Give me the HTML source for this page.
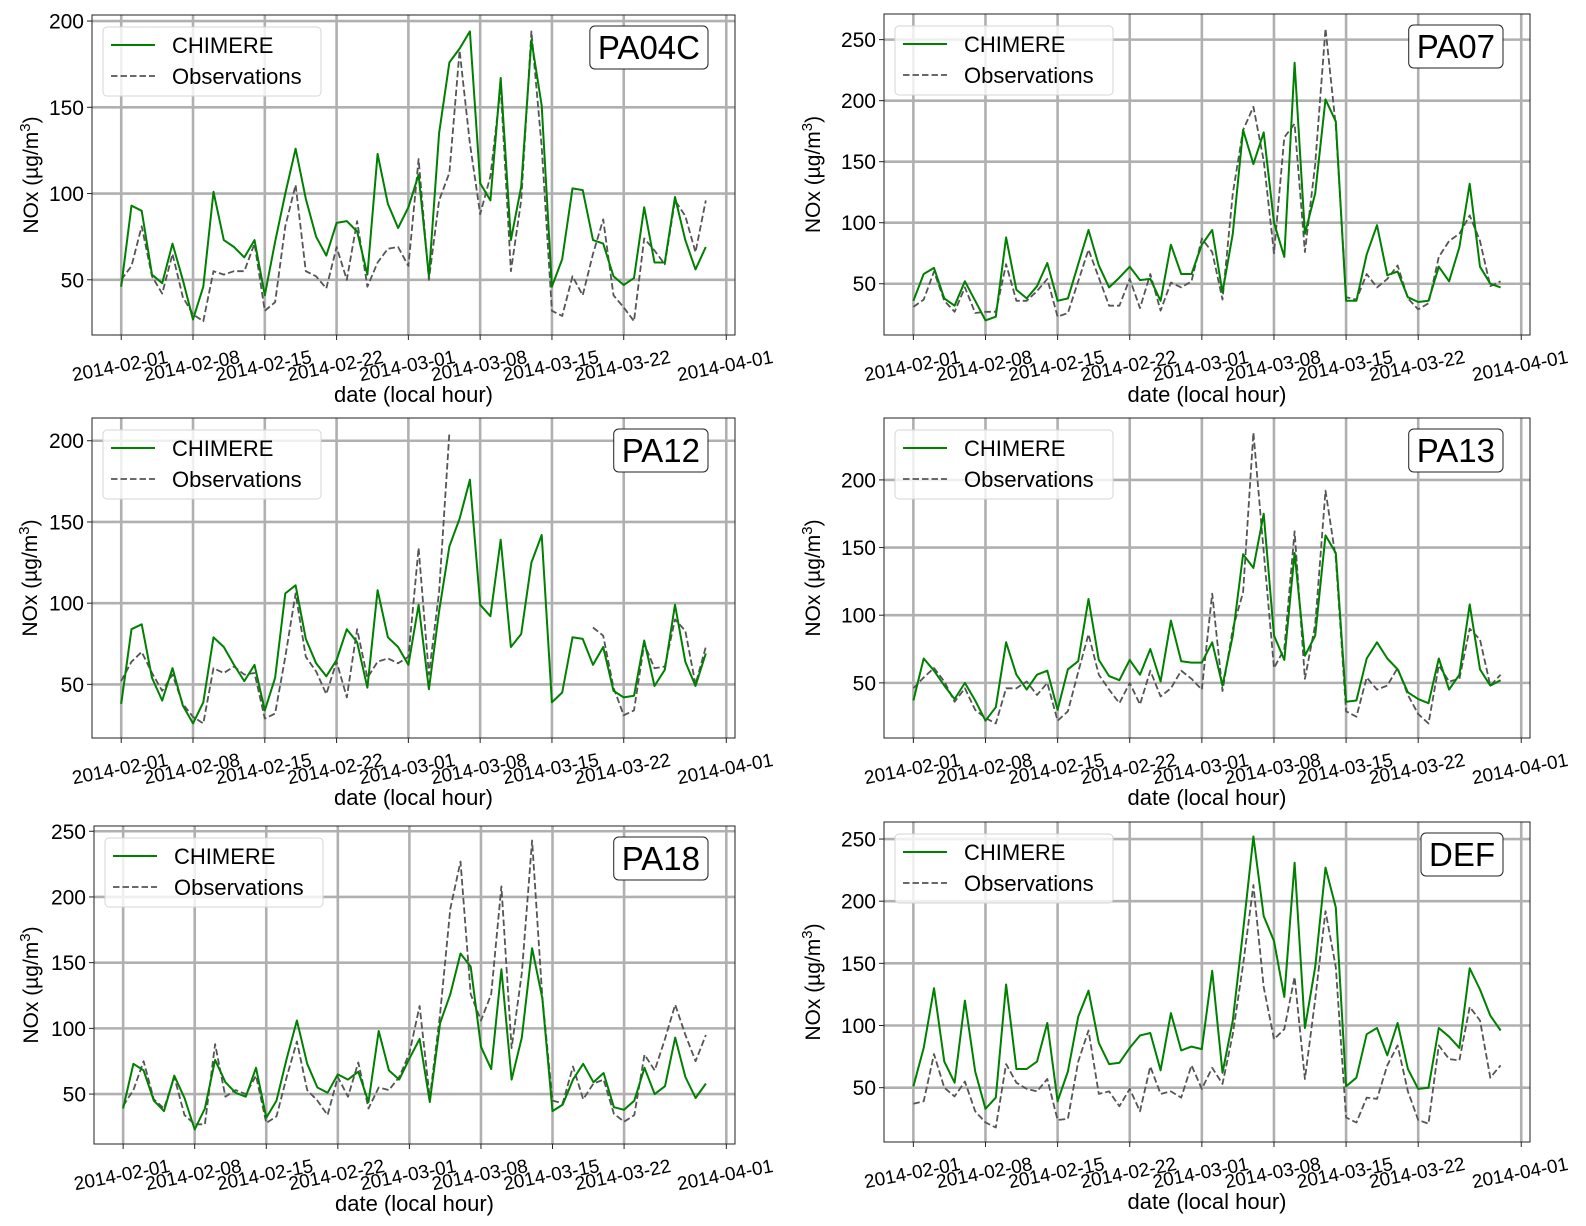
<!DOCTYPE html>
<html><head><meta charset="utf-8">
<style>
html,body{margin:0;padding:0;background:#fff;}
svg{display:block;font-family:"Liberation Sans","DejaVu Sans",sans-serif;}
</style></head>
<body>
<svg id="fig" width="1586" height="1226" viewBox="0 0 1586 1226" xmlns="http://www.w3.org/2000/svg"></svg>
<script>
const tickDays = [0,7,14,21,28,35,42,49,59];
const tickLabels = ["2014-02-01","2014-02-08","2014-02-15","2014-02-22","2014-03-01","2014-03-08","2014-03-15","2014-03-22","2014-04-01"];
const stations = ["PA04C","PA07","PA12","PA13","PA18","DEF"];

const pa04cModel = [46,93,90,53,48,71,50,27,46,101,73,69,63,73,41,72,100,126,97,75,64,83,84,78,53,123,94,80,92,111,52,135,176,184,194,106,96,167,73,104,189,151,46,62,103,102,73,71,52,47,51,92,60,60,98,73,56,69];
const pa04cObs = [50,58,81,52,42,65,40,30,26,55,53,55,55,71,32,37,81,105,55,52,45,69,50,84,46,60,68,69,58,120,50,96,112,183,129,88,110,162,55,96,194,127,32,29,52,41,65,85,41,34,26,74,67,59,96,87,66,96];

const pa07Model = [36,58,63,38,32,52,36,20,23,88,45,38,48,67,36,38,66,94,65,47,55,64,53,54,36,82,58,58,82,94,43,91,176,148,174,100,72,231,91,124,201,183,36,36,74,98,57,60,39,35,36,64,52,80,132,64,50,47];
const pa07Obs = [31,37,60,36,27,47,26,27,27,66,36,36,44,54,23,26,52,78,55,32,32,54,30,58,28,51,47,52,87,76,37,124,176,195,151,75,170,181,76,148,259,179,39,37,58,47,54,65,38,29,34,72,85,91,106,85,48,52];

const pa12Model = [38,84,87,54,40,60,37,26,39,79,73,62,52,62,34,54,106,111,78,63,55,65,84,76,48,108,79,73,62,99,47,95,135,152,176,99,92,139,73,81,125,142,39,45,79,78,62,73,46,42,43,77,49,59,99,64,49,69];
const pa12Obs = [52,64,70,57,46,56,38,30,26,60,57,61,56,57,29,32,67,106,67,58,44,64,42,84,54,64,66,63,67,134,56,107,205,null,null,null,null,null,null,null,null,null,null,null,null,null,85,80,48,31,34,75,60,61,90,83,50,73];

const pa13Model = [37,68,59,48,38,50,37,22,32,80,56,45,56,59,30,60,66,112,67,55,52,67,56,75,51,96,66,65,65,80,48,85,145,135,175,85,67,146,70,85,159,146,36,37,68,80,68,60,43,38,35,68,45,56,108,60,48,52];
const pa13Obs = [46,54,61,51,36,46,30,24,20,46,46,51,41,50,22,29,58,86,56,45,35,50,34,59,40,46,59,53,45,116,44,90,117,235,147,61,75,162,53,93,192,142,29,25,54,45,48,61,41,27,20,63,51,53,90,82,48,56];

const pa18Model = [39,73,68,45,37,64,47,23,39,76,59,51,48,70,32,45,77,106,73,55,51,65,61,67,44,98,68,61,77,92,44,104,126,157,147,86,69,145,61,93,161,123,37,42,61,73,59,66,40,38,45,70,50,56,93,63,47,58];
const pa18Obs = [41,53,75,46,39,63,34,27,27,88,48,53,50,64,28,33,63,90,53,45,34,63,48,74,39,55,53,63,81,117,47,111,191,227,126,106,126,208,85,142,243,124,45,43,71,46,58,61,35,29,34,80,68,92,118,95,75,95];

const defModel = [51,82,130,71,54,120,63,33,42,133,65,65,71,102,39,63,107,128,86,69,70,82,92,94,64,110,80,83,81,144,62,104,176,252,188,168,123,231,98,147,227,195,51,58,93,98,76,102,65,49,50,98,91,82,146,129,108,96];
const defObs = [37,39,77,50,43,55,31,22,18,69,54,49,47,57,24,25,71,96,45,47,35,49,31,67,45,47,42,68,49,66,53,93,149,213,131,89,97,139,57,121,192,147,26,22,42,41,68,84,47,24,21,84,73,72,115,104,58,68];

const yTicks4 = [50,100,150,200];
const yTicks5 = [50,100,150,200,250];

const NS = "http://www.w3.org/2000/svg";
const svg = document.getElementById("fig");
function mk(tag, attrs, parent){
  const e = document.createElementNS(NS, tag);
  for (const k in attrs) e.setAttribute(k, attrs[k]);
  (parent||svg).appendChild(e);
  return e;
}

const panels = [
  {name:stations[0], model:pa04cModel, obs:pa04cObs, L:92, R:735, T:15, B:335, y0:18, y1:203.5, ticks:yTicks4, ylx:31},
  {name:stations[1], model:pa07Model, obs:pa07Obs, L:884, R:1530, T:14, B:335, y0:8, y1:271, ticks:yTicks5, ylx:813},
  {name:stations[2], model:pa12Model, obs:pa12Obs, L:92, R:735, T:418, B:738, y0:17, y1:214, ticks:yTicks4, ylx:30},
  {name:stations[3], model:pa13Model, obs:pa13Obs, L:884, R:1530, T:418, B:738, y0:9.25, y1:245.75, ticks:yTicks4, ylx:813},
  {name:stations[4], model:pa18Model, obs:pa18Obs, L:94, R:735, T:826, B:1144, y0:12, y1:254, ticks:yTicks5, ylx:31},
  {name:stations[5], model:defModel, obs:defObs, L:884, R:1530, T:822, B:1142, y0:6.3, y1:263.7, ticks:yTicks5, ylx:813}
];
const XMIN = -2.85, XMAX = 59.85;

panels.forEach(function(p){
  const slug = p.name.toLowerCase();
  const g = mk("g", {});
  
  
  const xs = d => p.L + (d - XMIN) / (XMAX - XMIN) * (p.R - p.L);
  const ys = v => p.B - (v - p.y0) / (p.y1 - p.y0) * (p.B - p.T);

  const clipId = "clip-" + slug;
  const cp = mk("clipPath", {id: clipId}, g);
  mk("rect", {x:p.L, y:p.T, width:p.R-p.L, height:p.B-p.T}, cp);

  const grid = mk("g", {"clip-path":"url(#"+clipId+")"}, g);
  
  
  tickDays.forEach(function(d){
    mk("line", {x1:xs(d), x2:xs(d), y1:p.T, y2:p.B, stroke:"#b0b0b0", "stroke-width":2.6}, grid);
  });
  p.ticks.forEach(function(v){
    mk("line", {x1:p.L, x2:p.R, y1:ys(v), y2:ys(v), stroke:"#b0b0b0", "stroke-width":2.6}, grid);
  });

  const series = mk("g", {"clip-path":"url(#"+clipId+")"}, g);
  function pathFor(arr){
    let d = "", pen = false;
    arr.forEach(function(v,i){
      if (v === null) { pen = false; return; }
      d += (pen ? "L" : "M") + xs(i).toFixed(1) + "," + ys(v).toFixed(1);
      pen = true;
    });
    return d;
  }
  const obsLine = mk("path", {d:pathFor(p.obs), fill:"none", stroke:"#555", "stroke-width":1.8, "stroke-dasharray":"6.5,3", "stroke-linejoin":"round"}, series);
  
  
  const modLine = mk("path", {d:pathFor(p.model), fill:"none", stroke:"#008000", "stroke-width":2, "stroke-linejoin":"round"}, series);
  
  

  const frame = mk("rect", {x:p.L, y:p.T, width:p.R-p.L, height:p.B-p.T, fill:"none", stroke:"#222", "stroke-width":1}, g);
  
  

  const yAxis = mk("g", {}, g);
  
  
  p.ticks.forEach(function(v){
    mk("line", {x1:p.L-5, x2:p.L, y1:ys(v), y2:ys(v), stroke:"#222", "stroke-width":1}, yAxis);
    const t = mk("text", {x:p.L-8, y:ys(v)+7.5, "text-anchor":"end", "font-size":21, fill:"#000"}, yAxis);
    t.textContent = v;
  });
  const yl = mk("text", {x:0, y:0, "text-anchor":"middle", "font-size":21, fill:"#000",
     transform:"translate("+(p.ylx+7)+","+((p.T+p.B)/2)+") rotate(-90)"}, yAxis);
  
  
  yl.appendChild(document.createTextNode("NOx (µg/m"));
  const sup = mk("tspan", {"font-size":15, dy:-8}, yl); sup.textContent = "3";
  const cl = mk("tspan", {dy:8}, yl); cl.textContent = ")";

  const xAxis = mk("g", {}, g);
  
  
  tickDays.forEach(function(d,i){
    mk("line", {x1:xs(d), x2:xs(d), y1:p.B, y2:p.B+5, stroke:"#222", "stroke-width":1}, xAxis);
    const t = mk("text", {x:0, y:0, "text-anchor":"middle", "font-size":19, fill:"#000",
      transform:"translate("+xs(d)+","+(p.B+37)+") rotate(-11)"}, xAxis);
    t.textContent = tickLabels[i];
  });
  const xl = mk("text", {x:(p.L+p.R)/2, y:p.B+67, "text-anchor":"middle", "font-size":22, fill:"#000"}, xAxis);
  
  
  xl.textContent = "date (local hour)";

  const lg = mk("g", {}, g);
  
  
  mk("rect", {x:p.L+11, y:p.T+12, width:218, height:69, rx:4, fill:"#fff", "fill-opacity":0.8, stroke:"#d6d6d6", "stroke-width":1}, lg);
  const e1 = mk("g", {}, lg);
  
  
  mk("line", {x1:p.L+19, x2:p.L+63, y1:p.T+30, y2:p.T+30, stroke:"#008000", "stroke-width":2}, e1);
  const t1 = mk("text", {x:p.L+80, y:p.T+38, "font-size":22, fill:"#000"}, e1); t1.textContent = "CHIMERE";
  const e2 = mk("g", {}, lg);
  
  
  mk("line", {x1:p.L+19, x2:p.L+63, y1:p.T+61, y2:p.T+61, stroke:"#555", "stroke-width":1.8, "stroke-dasharray":"6.5,3"}, e2);
  const t2 = mk("text", {x:p.L+80, y:p.T+69, "font-size":22, fill:"#000"}, e2); t2.textContent = "Observations";

  const tg = mk("g", {}, g);
  
  
  const box = mk("rect", {x:0, y:p.T+11, width:10, height:43, rx:5, fill:"#fff", stroke:"#222", "stroke-width":1}, tg);
  const tt = mk("text", {x:p.R-35, y:p.T+44, "text-anchor":"end", "font-size":33, fill:"#000"}, tg);
  tt.textContent = p.name;
  let w = 90;
  try { w = tt.getComputedTextLength(); } catch(e) {}
  box.setAttribute("x", p.R-35-w-8);
  box.setAttribute("width", w+16);
});
</script>
</body></html>
